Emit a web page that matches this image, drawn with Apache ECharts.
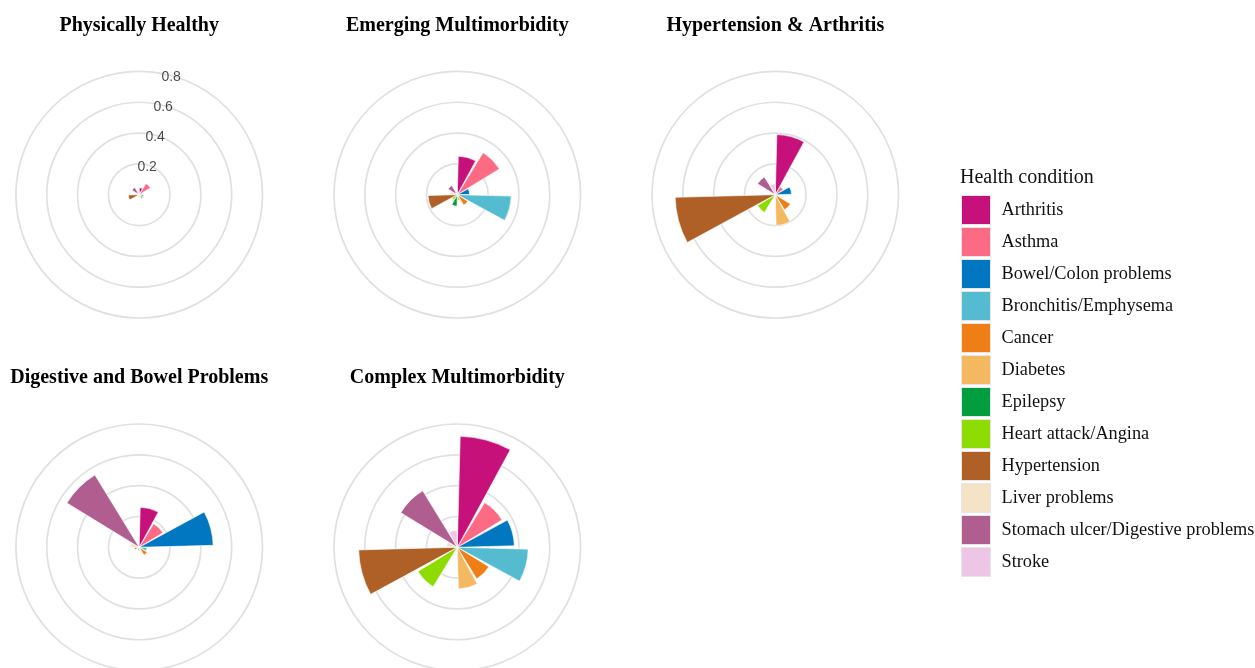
<!DOCTYPE html>
<html>
<head>
<meta charset="utf-8">
<script src="https://cdn.jsdelivr.net/npm/echarts@6/dist/echarts.min.js"></script>
<style>
  html, body { margin: 0; padding: 0; background: #fff; }
  #chart { width: 1255px; height: 668px; }
</style>
</head>
<body>
<div id="chart"></div>
<script>
// Health conditions (angular categories, clockwise from 12 o'clock)
const conditions = [
  'Arthritis', 'Asthma', 'Bowel/Colon problems', 'Bronchitis/Emphysema',
  'Cancer', 'Diabetes', 'Epilepsy', 'Heart attack/Angina',
  'Hypertension', 'Liver problems', 'Stomach ulcer/Digestive problems', 'Stroke'
];
const conditionColors = [
  '#C6107A', '#FD6A83', '#0077C0', '#54BBD0',
  '#F07E16', '#F4B860', '#009E3E', '#8EDB00',
  '#AE6027', '#F5E3C8', '#AF5E8F', '#EEC6E5'
];

// Latent classes, one polar panel each
const classNames = [
  'Physically Healthy', 'Emerging Multimorbidity', 'Hypertension & Arthritis',
  'Digestive and Bowel Problems', 'Complex Multimorbidity'
];

// Condition prevalence within each class (same order as `conditions`)
const physicallyHealthy = [0.045, 0.085, 0.02, 0.03, 0.03, 0.02, 0.01, 0.01, 0.07, 0.01, 0.055, 0.02];
const emergingMultimorbidity = [0.25, 0.32, 0.08, 0.35, 0.08, 0.04, 0.075, 0.04, 0.19, 0.05, 0.07, 0.02];
const hypertensionArthritis = [0.39, 0.06, 0.105, 0.01, 0.115, 0.20, 0.01, 0.135, 0.65, 0.02, 0.135, 0.07];
const digestiveBowel = [0.26, 0.18, 0.48, 0.05, 0.06, 0.02, 0.02, 0.01, 0.03, 0.06, 0.55, 0.005];
const complexMultimorbidity = [0.72, 0.34, 0.37, 0.46, 0.24, 0.27, 0.01, 0.30, 0.64, 0.07, 0.43, 0.11];

const classValues = [
  physicallyHealthy, emergingMultimorbidity, hypertensionArthritis,
  digestiveBowel, complexMultimorbidity
];

// Radial gridline values and their labels (first panel only)
const radialTicks = [0.2, 0.4, 0.6, 0.8];
const radialMax = 0.8;

// Panel layout
const panelCenters = [
  [139.2, 194.7], [457.3, 194.7], [775.3, 194.7],
  [139.2, 547.3], [457.3, 547.3]
];
const panelRadius = 123.3;

const serif = '"Liberation Serif", "Times New Roman", serif';
const sans = '"Liberation Sans", Arial, sans-serif';

const polar = [], angleAxis = [], radiusAxis = [], title = [], series = [];

classNames.forEach((name, p) => {
  polar.push({ center: panelCenters[p], radius: panelRadius });
  angleAxis.push({
    polarIndex: p, type: 'category', data: conditions,
    startAngle: 90, clockwise: true,
    axisLine: { show: false }, axisTick: { show: false },
    axisLabel: { show: false }, splitLine: { show: false }
  });
  radiusAxis.push({
    polarIndex: p, type: 'value', min: 0, max: radialMax, interval: 0.2,
    axisLine: { show: false }, axisTick: { show: false }, axisLabel: { show: false },
    splitLine: { show: true, lineStyle: { color: '#e0e0e0', width: 1.7 } }
  });
  title.push({
    text: name, left: panelCenters[p][0] - 5, top: panelCenters[p][1] - 184,
    textAlign: 'center',
    textStyle: { fontFamily: serif, fontWeight: 'bold', fontSize: 20, color: '#000' }
  });
  conditions.forEach((cond, c) => {
    const data = conditions.map((_, k) => (k === c ? classValues[p][c] : '-'));
    series.push({
      type: 'bar', coordinateSystem: 'polar', polarIndex: p,
      name: cond, stack: 'class' + p, barCategoryGap: '10%',
      data: data,
      itemStyle: { color: conditionColors[c], borderColor: '#fff', borderWidth: 0.6 },
      emphasis: { disabled: true }
    });
  });
});

// Radial scale labels on the first panel, along the centre of the first sector
series.push({
  type: 'scatter', coordinateSystem: 'polar', polarIndex: 0,
  symbolSize: 0, silent: true, z: 5,
  data: radialTicks.map(v => [v, 0]),
  label: {
    show: true, position: 'inside', offset: [0, 2],
    formatter: (d) => String(d.value[0]),
    fontFamily: sans, fontSize: 14, color: '#1a1a1a'
  }
});

title.push({
  text: 'Health condition', left: 955, top: 163,
  textStyle: { fontFamily: serif, fontWeight: 'normal', fontSize: 20, color: '#111' }
});

const chart = echarts.init(document.getElementById('chart'), null, { renderer: 'canvas' });
chart.setOption({
  animation: false,
  backgroundColor: '#fff',
  title: title,
  polar: polar,
  angleAxis: angleAxis,
  radiusAxis: radiusAxis,
  legend: {
    data: conditions, orient: 'vertical', left: 956, top: 190,
    itemWidth: 29, itemHeight: 29, itemGap: 2, icon: 'rect',
    itemStyle: { borderColor: '#e6e6e6', borderWidth: 1 },
    selectedMode: false,
    textStyle: { fontFamily: serif, fontSize: 18.3, color: '#111', padding: [0, 0, 0, 6] }
  },
  series: series
});
</script>
</body>
</html>
